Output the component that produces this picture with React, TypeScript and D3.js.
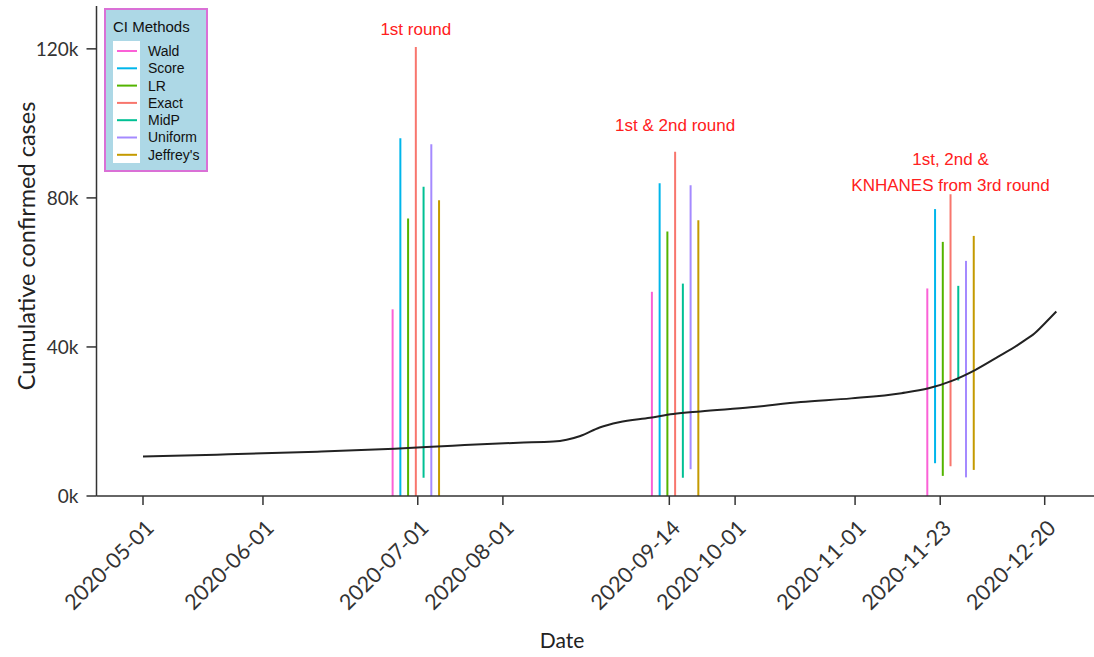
import React from "react";
import * as d3 from "d3";

// ---------- data ----------
const methods = ["Wald", "Score", "LR", "Exact", "MidP", "Uniform", "Jeffrey's"];
const methodColors = ["#FB61D7", "#00B6EB", "#53B400", "#F8766D", "#00C094", "#A58AFF", "#C49A00"];
const methodOffsetDays = [-6, -4, -2, 0, 2, 4, 6];

const roundDates = ["2020-07-10T12:00:00Z", "2020-09-15T12:00:00Z", "2020-11-25T16:00:00Z"];
const roundLabels = [["1st round"], ["1st & 2nd round"], ["1st, 2nd &", "KNHANES from 3rd round"]];
const roundLabelValues = [123800, 98000, 88700];

const round1Upper = [50100, 96000, 74500, 120500, 83000, 94400, 79400];
const round1Lower = [0, 0, 0, 0, 4900, 0, 0];
const round2Upper = [54800, 83900, 71000, 92400, 57000, 83400, 74000];
const round2Lower = [0, 0, 0, 0, 4900, 7200, 0];
const round3Upper = [55700, 77000, 68200, 81000, 56400, 63100, 69800];
const round3Lower = [0, 8800, 5400, 8000, 31000, 5000, 7000];

const casesDates = [
  "2020-05-01", "2020-05-20", "2020-06-15", "2020-07-05", "2020-07-20", "2020-08-06",
  "2020-08-15", "2020-08-22", "2020-08-27", "2020-09-01", "2020-09-09", "2020-09-15",
  "2020-09-22", "2020-10-05", "2020-10-18", "2020-10-31", "2020-11-13", "2020-11-20",
  "2020-11-26", "2020-12-02", "2020-12-08", "2020-12-13", "2020-12-15", "2020-12-17",
  "2020-12-20", "2020-12-23",
];
const casesValues = [
  10600, 11100, 11900, 12700, 13500, 14300,
  14600, 16100, 18400, 19800, 21000, 22000,
  22700, 23800, 25200, 26200, 27600, 28900,
  30900, 33800, 37400, 40500, 41900, 43300,
  46300, 49500,
];

const xTickDates = [
  "2020-05-01", "2020-06-01", "2020-07-11", "2020-08-02", "2020-09-14",
  "2020-10-01", "2020-11-01", "2020-11-23", "2020-12-20",
];
const xTickLabels = [
  "2020-05-01", "2020-06-01", "2020-07-01", "2020-08-01", "2020-09-14",
  "2020-10-01", "2020-11-01", "2020-11-23", "2020-12-20",
];
const yTickValues = [0, 40000, 80000, 120000];

// ---------- chart ----------
const W = 1094;
const H = 657;
const axisX = 96.5;
const axisY = 496;
const topY = 6;

const parse = (s: string) => new Date(s.length <= 10 ? s + "T00:00:00Z" : s);

export default function App() {
  const x = d3
    .scaleUtc()
    .domain([parse("2020-05-01"), parse("2020-12-20")])
    .range([143, 1044.7]);
  const y = d3.scaleLinear().domain([0, 131500]).range([axisY, topY]);

  const rounds = [
    { upper: round1Upper, lower: round1Lower },
    { upper: round2Upper, lower: round2Lower },
    { upper: round3Upper, lower: round3Lower },
  ];

  const casePts = casesDates.map((d, i) => ({ d: parse(d), v: casesValues[i] }));
  const line = d3
    .line<{ d: Date; v: number }>()
    .x((p) => x(p.d))
    .y((p) => y(p.v))
    .curve(d3.curveMonotoneX);

  const tickFont = "Lato, 'Noto Sans', sans-serif";
  const annFont = "'Liberation Sans', Arial, sans-serif";

  return (
    <svg
      width={W}
      height={H}
      style={{ position: "absolute", left: 0, top: 0, background: "#fff" }}
    >
      {/* intervals */}
      {rounds.map((r, ri) =>
        methods.map((m, mi) => {
          const cx = x(d3.utcDay.offset(parse(roundDates[ri]), methodOffsetDays[mi]));
          return (
            <line
              key={`${ri}-${mi}`}
              x1={cx}
              x2={cx}
              y1={y(r.lower[mi])}
              y2={y(r.upper[mi])}
              stroke={methodColors[mi]}
              strokeWidth={2}
            />
          );
        })
      )}

      {/* cumulative cases */}
      <path d={line(casePts) || ""} fill="none" stroke="#222" strokeWidth={2} />

      {/* annotations */}
      {roundLabels.map((lines, ri) => {
        const cx = x(parse(roundDates[ri]));
        return (
          <text
            key={`ann-${ri}`}
            x={cx}
            y={y(roundLabelValues[ri])}
            fill="#ff2020"
            fontFamily={annFont}
            fontSize={17}
            textAnchor="middle"
          >
            {lines.map((t, li) => (
              <tspan key={li} x={cx} dy={li === 0 ? 0 : 26}>
                {t}
              </tspan>
            ))}
          </text>
        );
      })}

      {/* y axis */}
      <line x1={axisX} x2={axisX} y1={topY} y2={axisY} stroke="#333" strokeWidth={1.5} />
      {yTickValues.map((v) => (
        <g key={`yt-${v}`}>
          <line x1={axisX - 10} x2={axisX} y1={y(v)} y2={y(v)} stroke="#333" strokeWidth={1.5} />
          <text
            x={axisX - 18}
            y={y(v)}
            dy="0.35em"
            textAnchor="end"
            fontFamily={tickFont}
            fontSize={19}
            fill="#333"
          >
            {d3.format("d")(v / 1000) + "k"}
          </text>
        </g>
      ))}
      <text
        transform={`translate(27,246) rotate(-90)`}
        textAnchor="middle"
        dy="0.35em"
        fontFamily={tickFont}
        fontSize={23.5}
        fill="#222"
      >
        Cumulative confirmed cases
      </text>

      {/* x axis */}
      <line x1={axisX} x2={W} y1={axisY} y2={axisY} stroke="#333" strokeWidth={1.5} />
      {xTickDates.map((d, i) => {
        const tx = x(parse(d));
        return (
          <g key={`xt-${i}`}>
            <line x1={tx} x2={tx} y1={axisY} y2={axisY + 9} stroke="#333" strokeWidth={1.5} />
            <text
              transform={`translate(${tx + 7},${axisY + 28}) rotate(-45)`}
              textAnchor="end"
              dy="0.35em"
              fontFamily={tickFont}
              fontSize={21.5}
              fill="#333"
            >
              {xTickLabels[i]}
            </text>
          </g>
        );
      })}
      <text
        x={562}
        y={641}
        dy="0.35em"
        textAnchor="middle"
        fontFamily={tickFont}
        fontSize={21}
        fill="#222"
      >
        Date
      </text>

      {/* legend */}
      <g>
        <rect x={105} y={9} width={102} height={162} fill="#ADD8E6" stroke="#DA70D6" strokeWidth={2} />
        <text x={113} y={32} fontFamily={annFont} fontSize={15} fill="#111">
          CI Methods
        </text>
        <rect x={113} y={41} width={27} height={122} fill="#fff" />
        {methods.map((m, i) => {
          const ly = 51 + i * 17.3;
          return (
            <g key={`lg-${i}`}>
              <line x1={117} x2={137} y1={ly} y2={ly} stroke={methodColors[i]} strokeWidth={2} />
              <text x={148} y={ly} dy="0.35em" fontFamily={annFont} fontSize={14} fill="#111">
                {m}
              </text>
            </g>
          );
        })}
      </g>
    </svg>
  );
}
